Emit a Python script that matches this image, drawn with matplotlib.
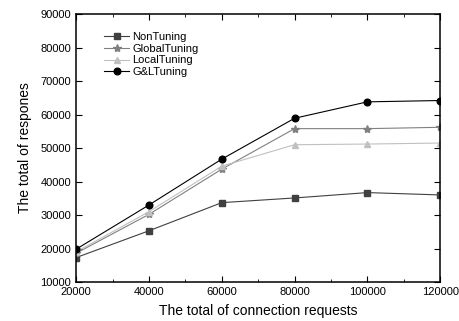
import matplotlib
matplotlib.use('Agg')
import matplotlib.pyplot as plt
from matplotlib.ticker import MultipleLocator

plt.rcParams['font.family'] = ['Liberation Sans', 'DejaVu Sans']

# data
requests = [20000, 40000, 60000, 80000, 100000, 120000]
non_tuning = [17300, 25300, 33700, 35100, 36700, 36000]
global_tuning = [18600, 30200, 43700, 55800, 55800, 56200]
local_tuning = [19000, 31000, 44600, 51000, 51200, 51500]
gl_tuning = [19800, 33000, 46700, 58900, 63800, 64200]

fig = plt.figure(figsize=(4.59, 3.21), dpi=100)
ax = fig.add_axes([0.166, 0.1215, 0.793, 0.8345])

ax.plot(requests, non_tuning, color='#404040', marker='s', markersize=4.2, lw=0.8, label='NonTuning')
ax.plot(requests, global_tuning, color='#808080', marker='*', markersize=6, lw=0.8, label='GlobalTuning')
ax.plot(requests, local_tuning, color='#c0c0c0', marker='^', markersize=5, lw=0.8, label='LocalTuning')
ax.plot(requests, gl_tuning, color='black', marker='o', markersize=4.8, lw=0.8, label='G&LTuning')

ax.set_xlim(20000, 120000)
ax.set_ylim(10000, 90000)
ax.xaxis.set_major_locator(MultipleLocator(20000))
ax.xaxis.set_minor_locator(MultipleLocator(10000))
ax.yaxis.set_major_locator(MultipleLocator(10000))
ax.tick_params(which='both', direction='in', top=True, right=True, labelsize=8)
ax.tick_params(which='major', length=4)
ax.tick_params(which='minor', length=2)
for s in ax.spines.values():
    s.set_linewidth(1.1)

ax.set_xlabel('The total of connection requests', fontsize=10, labelpad=5)
ax.set_ylabel('The total of respones', fontsize=10, labelpad=6)
ax.legend(loc='upper left', bbox_to_anchor=(0.05, 0.97), frameon=False, fontsize=8,
          handlelength=2.2, labelspacing=0.15, handletextpad=0.3)

fig.savefig('out.png', dpi=100)
